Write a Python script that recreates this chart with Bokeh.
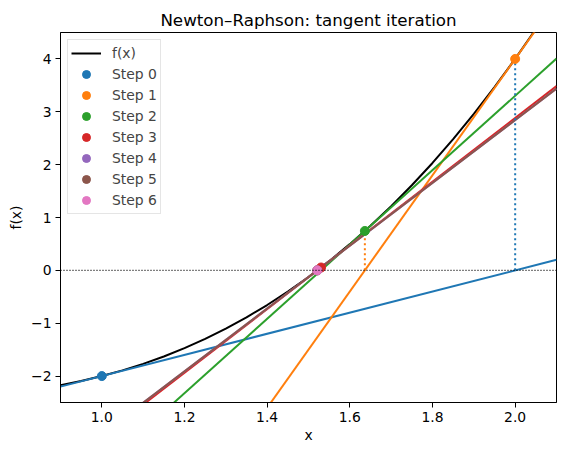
from bokeh.plotting import figure
from bokeh.models import Range1d, FixedTicker, Legend, LegendItem, Span
from bokeh.embed import file_html
from bokeh.resources import INLINE

curve_x = [0.90, 0.95, 1.00, 1.05, 1.10, 1.15, 1.20, 1.25, 1.30, 1.35, 1.40, 1.45,
           1.50, 1.55, 1.60, 1.65, 1.70, 1.75, 1.80, 1.85, 1.90, 1.95, 2.00, 2.05, 2.10]
curve_y = [-2.171, -2.0926, -2.0, -1.8924, -1.769, -1.6291, -1.472, -1.2969, -1.103,
           -0.8896, -0.656, -0.4014, -0.125, 0.1739, 0.496, 0.8421, 1.213, 1.6094,
           2.032, 2.4816, 2.959, 3.4649, 4.0, 4.5651, 5.161]

# Newton steps
step_labels = ["Step 0", "Step 1", "Step 2", "Step 3", "Step 4", "Step 5", "Step 6"]
step_x = [1.0, 2.0, 1.63636, 1.53039, 1.52144, 1.52138, 1.52138]
step_y = [-2.0, 4.0, 0.74532, 0.05393, 0.00036, 0.0, 0.0]

# tangent lines (steps 0-5), y at the left and right x limits
tangent_x = [0.9, 2.1]
tangent_y_left = [-2.2, -8.1, -4.43354, -3.74497, -3.69369, -3.6937]
tangent_y_right = [0.2, 5.1, 4.00613, 3.48655, 3.43952, 3.4396]

colors = ["#1f77b4", "#ff7f0e", "#2ca02c", "#d62728", "#9467bd", "#8c564b", "#e377c2"]

x_ticks = [1.0, 1.2, 1.4, 1.6, 1.8, 2.0]
x_tick_labels = ["1.0", "1.2", "1.4", "1.6", "1.8", "2.0"]
y_ticks = [-2, -1, 0, 1, 2, 3, 4]
y_tick_labels = ["\u22122", "\u22121", "0", "1", "2", "3", "4"]

FONT = "DejaVu Sans"

p = figure(width=557, height=447, output_backend="svg", toolbar_location=None,
           x_range=Range1d(0.9, 2.1), y_range=Range1d(-2.5, 4.5),
           title="Newton\u2013Raphson: tangent iteration",
           min_border_left=60, min_border_right=1, min_border_top=32, min_border_bottom=45)

p.title.align = "center"
p.title.text_font = FONT
p.title.text_font_size = "16.7px"
p.title.text_font_style = "normal"
p.title.text_color = "black"
p.title.standoff = 6

p.xgrid.visible = False
p.ygrid.visible = False
p.outline_line_color = "black"
p.outline_line_alpha = 1.0
p.outline_line_width = 1

for ax, ticks, labels, name in [(p.xaxis[0], x_ticks, x_tick_labels, "x"),
                                 (p.yaxis[0], y_ticks, y_tick_labels, "f(x)")]:
    ax.ticker = FixedTicker(ticks=ticks)
    ax.major_label_overrides = {t: l for t, l in zip(ticks, labels)}
    ax.minor_tick_line_color = None
    ax.major_tick_out = 5
    ax.major_tick_in = 0
    ax.major_tick_line_color = "black"
    ax.axis_line_color = "black"
    ax.major_label_text_font = FONT
    ax.major_label_text_font_size = "13.9px"
    ax.major_label_text_color = "black"
    ax.axis_label = name
    ax.axis_label_text_font = FONT
    ax.axis_label_text_font_size = "13.9px"
    ax.axis_label_text_font_style = "normal"
    ax.axis_label_text_color = "black"

p.xaxis.major_label_standoff = 4
p.yaxis.major_label_standoff = 4
p.xaxis.axis_label_standoff = 2
p.yaxis.axis_label_standoff = 4

curve = p.line(curve_x, curve_y, line_color="black", line_width=2)

p.add_layout(Span(location=0, dimension="width", line_color="black",
                  line_dash="1 2", line_width=1.3))

for i in range(len(tangent_y_left)):
    p.line(tangent_x, [tangent_y_left[i], tangent_y_right[i]],
           line_color=colors[i], line_width=2)

for i in range(len(step_x) - 1):
    p.segment(x0=[step_x[i + 1]], y0=[0], x1=[step_x[i + 1]], y1=[step_y[i + 1]],
              line_color=colors[i], line_width=2, line_dash="2 3")

items = [LegendItem(label="f(x)", renderers=[curve])]
for i in range(len(step_x)):
    r = p.scatter([step_x[i]], [step_y[i]], size=9, color=colors[i])
    items.append(LegendItem(label=step_labels[i], renderers=[r]))

legend = Legend(items=items, location="top_left", margin=7, padding=3, spacing=1,
                glyph_width=30, glyph_height=20, label_height=20, label_standoff=11,
                label_text_font=FONT, label_text_font_size="13.9px",
                border_line_color="#cccccc", border_line_width=1,
                background_fill_alpha=0.8)
p.add_layout(legend)

open("out.html", "w").write(file_html(p, INLINE))
